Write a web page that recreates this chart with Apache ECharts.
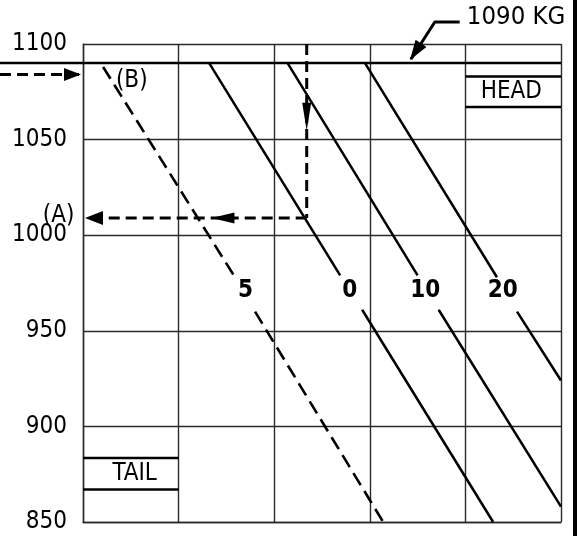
<!DOCTYPE html>
<html>
<head>
<meta charset="utf-8">
<title>Landing weight chart</title>
<script src="https://cdn.jsdelivr.net/npm/echarts@6/dist/echarts.min.js"></script>
<style>html,body{margin:0;padding:0;background:#fff;}</style>
</head>
<body>
<div id="main" style="width:577px;height:536px;"></div>
<script>
// weight axis (kg)
var yTicks = [850, 900, 950, 1000, 1050, 1100];

// 1090 kg reference line
var refLine = [[-0.87, 1090], [5, 1090]];

// wind lines: upper part, gap for the label, lower part
var windNames = ['5', '0', '10', '20'];
var windUpper = [
  [[0.21, 1088], [1.59, 978]],
  [[1.32, 1090], [2.69, 979]],
  [[2.14, 1090], [3.50, 979]],
  [[2.95, 1090], [4.33, 978]]
];
var windLower = [
  [[1.80, 960], [3.14, 850]],
  [[2.92, 961], [4.29, 850]],
  [[3.72, 961], [5, 858]],
  [[4.54, 960], [5, 924]]
];
var windLabelAt = [[1.70, 971], [2.79, 971], [3.58, 971], [4.39, 971]];

// HEAD / TAIL bars
var headBars = [1083, 1067];
var tailBars = [883.5, 867];

// dashed reading path
var entryPath = [[-0.87, 1084], [-0.03, 1084]];
var dropPath = [[2.34, 1100], [2.34, 1009]];
var readPath = [[2.34, 1009], [0.03, 1009]];

// leader to the 1090 kg line
var leaderPath = [[3.94, 1111.5], [3.68, 1111.5], [3.43, 1092]];

// arrow heads
var arrowHeads = [[-0.11, 1084], [0.115, 1009], [1.464, 1009], [2.34, 1062], [3.478, 1096]];

// free text
var notes = [
  ['(B)', 0.51, 1081],
  ['(A)', -0.255, 1010],
  ['HEAD', 4.48, 1075.2],
  ['TAIL', 0.54, 875]
];
var weightNote = ['1090 KG', 4.01, 1114];

var FONT = "'DejaVu Sans Condensed', 'DejaVu Sans', sans-serif";

var chart = echarts.init(document.getElementById('main'));

function seg(data, style, wide) {
  return {
    type: 'line', data: data, symbol: 'none', clip: false,
    xAxisIndex: wide ? 1 : 0, yAxisIndex: wide ? 1 : 0,
    silent: true, z: 3, lineStyle: style
  };
}

var solid = {color: '#000', width: 2.5};
var dashNav = {color: '#000', width: 3, type: [11, 6]};
var series = [];

// these two run out past the left edge of the plot, so they use the wide grid
series.push(seg(refLine, solid, true));
series.push(seg(entryPath, dashNav, true));

for (var i = 0; i < windNames.length; i++) {
  var st = i === 0 ? {color: '#000', width: 2.6, type: [14, 7]} : solid;
  series.push(seg(windUpper[i], st));
  series.push(seg(windLower[i], st));
}

headBars.forEach(function (w) { series.push(seg([[4, w], [5, w]], solid)); });
tailBars.forEach(function (w) { series.push(seg([[0, w], [1, w]], solid)); });

series.push(seg(dropPath, dashNav));
series.push(seg(readPath, dashNav));
series.push(seg(leaderPath, {color: '#000', width: 3}));

// rotation and size of each arrow head
var headStyle = [
  {rot: -90, size: [13, 17]},
  {rot: 90, size: [14, 18]},
  {rot: 90, size: [11, 23]},
  {rot: 180, size: [9, 28]},
  {rot: 146.6, size: [13, 20]}
];
series.push({
  type: 'scatter', clip: false, silent: true, z: 5,
  symbol: 'triangle',
  itemStyle: {color: '#000', opacity: 1},
  data: arrowHeads.map(function (p, k) {
    return {value: p, symbolRotate: headStyle[k].rot, symbolSize: headStyle[k].size};
  })
});

// wind labels
series.push({
  type: 'scatter', clip: false, silent: true, z: 6, symbolSize: 1,
  itemStyle: {color: '#fff', opacity: 1},
  label: {show: true, position: 'inside', color: '#000', fontFamily: FONT,
    fontWeight: 'bold', fontSize: 24, formatter: '{b}'},
  data: windNames.map(function (n, k) { return {name: n, value: windLabelAt[k]}; })
});

// other texts
series.push({
  type: 'scatter', clip: false, silent: true, z: 6, symbolSize: 1,
  itemStyle: {color: '#fff', opacity: 1},
  label: {show: true, position: 'inside', color: '#000', fontFamily: FONT,
    fontSize: 24, formatter: '{b}'},
  data: notes.map(function (n) {
    return {name: n[0], value: [n[1], n[2]]};
  }).concat([{
    name: weightNote[0], value: [weightNote[1], weightNote[2]],
    label: {position: 'right', distance: 0, fontSize: 25.5}
  }])
});

var gridLine = {show: true, lineStyle: {color: '#2a2a2a', width: 1.4}};
var hidden = {show: false};

var option = {
  animation: false,
  backgroundColor: '#fff',
  grid: [
    {left: 83, right: 16, top: 44, bottom: 14},
    {left: 0, right: 16, top: 44, bottom: 14}
  ],
  xAxis: [{
    type: 'value', min: 0, max: 5, interval: 1,
    axisLine: gridLine, axisTick: hidden, axisLabel: hidden,
    splitLine: gridLine
  }, {
    type: 'value', gridIndex: 1, min: -0.87, max: 5,
    axisLine: hidden, axisTick: hidden, axisLabel: hidden, splitLine: hidden
  }],
  yAxis: [{
    type: 'value', min: yTicks[0], max: yTicks[yTicks.length - 1], interval: 50,
    axisLine: gridLine, axisTick: hidden,
    axisLabel: {color: '#000', fontFamily: FONT, fontSize: 24, margin: 16,
      formatter: function (v) { return yTicks.indexOf(v) >= 0 ? String(v) : ''; }},
    splitLine: gridLine
  }, {
    type: 'value', gridIndex: 1, min: yTicks[0], max: yTicks[yTicks.length - 1],
    axisLine: hidden, axisTick: hidden, axisLabel: hidden, splitLine: hidden
  }],
  graphic: [{
    type: 'rect', right: 0, top: 0, z: 10,
    shape: {width: 4, height: 536}, style: {fill: '#000'}
  }],
  series: series
};

chart.setOption(option);
</script>
</body>
</html>
